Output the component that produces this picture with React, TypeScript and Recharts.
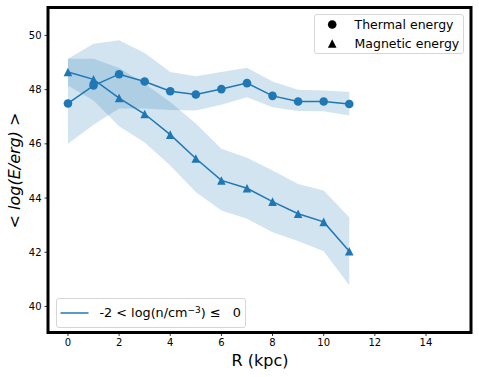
import { ComposedChart, Line, Area, XAxis, YAxis, ReferenceArea } from 'recharts';

const radius = [0, 1, 2, 3, 4, 5, 6, 7, 8, 9, 10, 11];

const thermalMean = [47.49, 48.15, 48.57, 48.3, 47.94, 47.82, 48.02, 48.24, 47.77, 47.56, 47.56, 47.47];
const thermalLow = [46.0, 46.7, 47.3, 47.3, 47.25, 47.23, 47.44, 47.72, 47.35, 47.21, 47.2, 47.05];
const thermalHigh = [49.14, 49.69, 49.82, 49.35, 48.65, 48.49, 48.65, 48.81, 48.3, 48.0, 47.97, 47.91];

const magneticMean = [48.65, 48.38, 47.69, 47.1, 46.34, 45.46, 44.65, 44.36, 43.87, 43.42, 43.12, 42.04];
const magneticLow = [48.15, 47.6, 46.65, 46.05, 45.2, 44.22, 43.54, 43.24, 42.74, 42.42, 42.04, 40.78];
const magneticHigh = [49.14, 49.14, 48.8, 48.22, 47.54, 46.75, 45.82, 45.49, 45.02, 44.52, 44.28, 43.29];

const xTicks = [0, 2, 4, 6, 8, 10, 12, 14];
const yTicks = [40, 42, 44, 46, 48, 50];

const X_DOMAIN: [number, number] = [-0.78, 15.76];
const Y_DOMAIN: [number, number] = [39.04, 51.03];

const BLUE = '#1f77b4';
const FONT = '"DejaVu Sans", sans-serif';

const data = radius.map((r, i) => ({
  r,
  thermal: thermalMean[i],
  thermalBand: [thermalLow[i], thermalHigh[i]],
  magnetic: magneticMean[i],
  magneticBand: [magneticLow[i], magneticHigh[i]],
}));

// matplotlib-like markers
const CircleDot = (props: any) => {
  const { cx, cy, index } = props;
  return <circle key={`c-${index}`} cx={cx} cy={cy} r={4.3} fill={BLUE} />;
};

const TriangleDot = (props: any) => {
  const { cx, cy, index } = props;
  const s = 4.3;
  return (
    <polygon
      key={`t-${index}`}
      points={`${cx},${cy - s} ${cx - s},${cy + s} ${cx + s},${cy + s}`}
      fill={BLUE}
    />
  );
};

export default function App() {
  return (
    <div style={{ position: 'absolute', left: 0, top: 0, width: 479, height: 377, background: '#fff', fontFamily: FONT }}>
      <ComposedChart width={479} height={377} data={data} margin={{ top: 7.5, right: 8, bottom: 14.5, left: 0 }}>
        <XAxis
          dataKey="r"
          type="number"
          domain={X_DOMAIN}
          allowDataOverflow
          ticks={xTicks}
          height={30}
          axisLine={false}
          tickLine={{ stroke: '#000', strokeWidth: 0.8 }}
          tickSize={3.5}
          tickMargin={3}
          tick={{ fontSize: 10, fill: '#000', fontFamily: FONT }}
        />
        <YAxis
          type="number"
          domain={Y_DOMAIN}
          allowDataOverflow
          ticks={yTicks}
          width={48}
          axisLine={false}
          tickLine={{ stroke: '#000', strokeWidth: 0.8 }}
          tickSize={3.5}
          tickMargin={3}
          tick={{ fontSize: 10, fill: '#000', fontFamily: FONT }}
        />
        <Area
          type="linear"
          dataKey="thermalBand"
          stroke="none"
          fill={BLUE}
          fillOpacity={0.2}
          isAnimationActive={false}
          activeDot={false}
        />
        <Area
          type="linear"
          dataKey="magneticBand"
          stroke="none"
          fill={BLUE}
          fillOpacity={0.2}
          isAnimationActive={false}
          activeDot={false}
        />
        <Line
          type="linear"
          dataKey="magnetic"
          stroke={BLUE}
          strokeWidth={1.5}
          dot={TriangleDot}
          activeDot={false}
          isAnimationActive={false}
        />
        <Line
          type="linear"
          dataKey="thermal"
          stroke={BLUE}
          strokeWidth={1.5}
          dot={CircleDot}
          activeDot={false}
          isAnimationActive={false}
        />
        <ReferenceArea
          x1={X_DOMAIN[0]}
          x2={X_DOMAIN[1]}
          y1={Y_DOMAIN[0]}
          y2={Y_DOMAIN[1]}
          fill="none"
          stroke="#000"
          strokeWidth={3}
          ifOverflow="visible"
        />
      </ComposedChart>

      {/* axis titles */}
      <div style={{ position: 'absolute', left: 0, top: 351, width: 479, paddingLeft: 41, boxSizing: 'border-box', textAlign: 'center', fontSize: 16, lineHeight: '20px' }}>
        R (kpc)
      </div>
      <svg style={{ position: 'absolute', left: 0, top: 0 }} width={30} height={377}>
        <text
          transform="translate(20,170.5) rotate(-90)"
          textAnchor="middle"
          fontSize={16}
          fontFamily={FONT}
          fill="#000"
        >
          {'< '}
          <tspan fontStyle="italic">log(E/erg)</tspan>
          {' >'}
        </text>
      </svg>

      {/* top-right legend */}
      <div style={{ position: 'absolute', left: 314, top: 14, width: 150, height: 40, border: '1px solid #d6d6d6', borderRadius: 3, background: 'rgba(255,255,255,0.8)', boxSizing: 'border-box', fontSize: 12.5 }}>
        <svg style={{ position: 'absolute', left: 0, top: 0 }} width={40} height={40}>
          <circle cx={17.2} cy={9.5} r={4.3} fill="#000" />
          <polygon points="17.2,24.2 12.9,32.8 21.5,32.8" fill="#000" />
        </svg>
        <div style={{ position: 'absolute', left: 39.5, top: 1, lineHeight: '17px', whiteSpace: 'nowrap' }}>Thermal energy</div>
        <div style={{ position: 'absolute', left: 39.5, top: 20, lineHeight: '17px', whiteSpace: 'nowrap' }}>Magnetic energy</div>
      </div>

      {/* bottom-left legend */}
      <div style={{ position: 'absolute', left: 56, top: 298, width: 190, height: 30, border: '1px solid #d6d6d6', borderRadius: 3, background: 'rgba(255,255,255,0.8)', boxSizing: 'border-box', fontSize: 12.8 }}>
        <svg style={{ position: 'absolute', left: 0, top: 0 }} width={40} height={30}>
          <line x1={3.5} x2={31.5} y1={14} y2={14} stroke={BLUE} strokeWidth={1.5} />
        </svg>
        <div style={{ position: 'absolute', left: 42.5, top: 5, lineHeight: '18px', whiteSpace: 'nowrap' }}>
          -2 &lt; log(n/cm<sup style={{ fontSize: 9, verticalAlign: 'top', position: 'relative', top: -3 }}>−3</sup>) ≤&nbsp;&nbsp; 0
        </div>
      </div>
    </div>
  );
}
